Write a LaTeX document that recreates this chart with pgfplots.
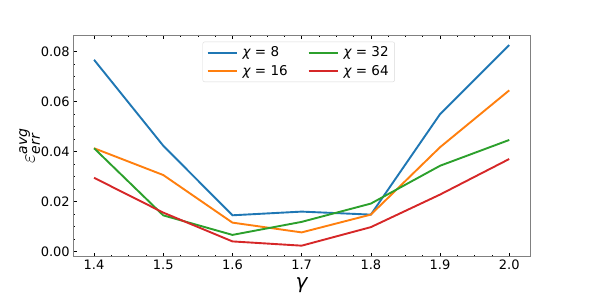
\documentclass[border=0pt]{standalone}
\usepackage{pgfplots}
\pgfplotsset{compat=1.18}
\usepackage{fontspec}
\setmainfont{DejaVu Sans}
\setsansfont{DejaVu Sans}
\newfontfamily\djo{DejaVu Sans Oblique}
\definecolor{mblue}{HTML}{1F77B4}
\definecolor{morange}{HTML}{FF7F0E}
\definecolor{mgreen}{HTML}{2CA02C}
\definecolor{mred}{HTML}{D62728}
\begin{document}
\begin{tikzpicture}[x=1pt,y=1pt]
\path[use as bounding box] (0,0) rectangle (589,294);
\begin{axis}[
  at={(73.3pt,37.3pt)}, anchor=south west,
  scale only axis, width=456.7pt, height=221.7pt,
  xmin=1.37, xmax=2.03, ymin=-0.002, ymax=0.0865,
  xtick={1.4,1.5,1.6,1.7,1.8,1.9,2.0},
  xticklabels={1.4,1.5,1.6,1.7,1.8,1.9,2.0},
  ytick={0,0.02,0.04,0.06,0.08},
  yticklabels={0.00,0.02,0.04,0.06,0.08},
  scaled y ticks=false,
  minor x tick num=3, minor y tick num=3,
  tick align=inside,
  xtick pos=both, ytick pos=left,
  major tick length=4pt, minor tick length=2pt,
  major tick style={black, line width=0.6pt},
  minor tick style={black, line width=0.5pt},
  axis line style={draw=black!50, line width=0.8pt},
  tick label style={font=\fontsize{13}{15}\selectfont},
  xlabel={\fontsize{20}{22}\selectfont\djo γ},
  ylabel={\fontsize{20}{22}\selectfont$\varepsilon^{\mathit{avg}}_{\mathit{err}}$},
  xlabel style={yshift=-1pt},
  ylabel style={yshift=-6pt},
  legend columns=2, transpose legend,
  legend style={at={(0.283,0.97)}, anchor=north west, draw=black!15, rounded corners=2pt,
    font=\fontsize{13.5}{15}\selectfont, row sep=3pt, column sep=3pt, inner xsep=4pt, inner ysep=3pt},
  legend cell align=left,
  legend image code/.code={\draw[#1] (0pt,0pt) -- (29pt,0pt);},
]
\addplot[draw=mblue, line width=1.9pt] coordinates {(1.4,0.0766) (1.5,0.0423) (1.6,0.01453) (1.7,0.0160) (1.8,0.0148) (1.9,0.0549) (2.0,0.0825)};
\addlegendentry{{\djo χ} = 8\hspace*{15pt}}
\addplot[draw=morange, line width=1.9pt] coordinates {(1.4,0.0413) (1.5,0.0306) (1.6,0.0116) (1.7,0.0077) (1.8,0.0148) (1.9,0.0417) (2.0,0.0644)};
\addlegendentry{{\djo χ} = 16\hspace*{15pt}}
\addplot[draw=mgreen, line width=1.9pt] coordinates {(1.4,0.0413) (1.5,0.0145) (1.6,0.0067) (1.7,0.0119) (1.8,0.0192) (1.9,0.0343) (2.0,0.0446)};
\addlegendentry{{\djo χ} = 32}
\addplot[draw=mred, line width=1.9pt] coordinates {(1.4,0.0295) (1.5,0.0156) (1.6,0.0041) (1.7,0.0024) (1.8,0.0098) (1.9,0.0228) (2.0,0.0370)};
\addlegendentry{{\djo χ} = 64}
\end{axis}
\end{tikzpicture}
\end{document}
